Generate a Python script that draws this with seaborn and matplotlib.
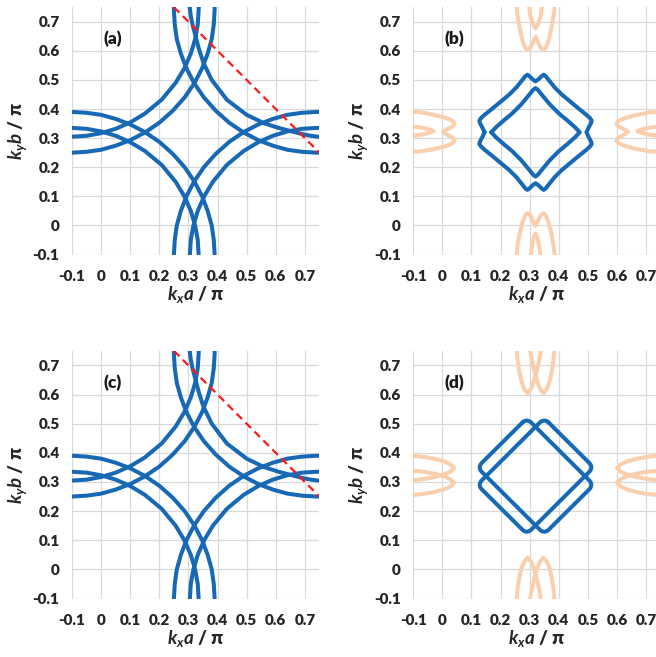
import matplotlib
matplotlib.use("Agg")
import numpy as np
import pandas as pd
import seaborn as sns
from matplotlib import pyplot as plt

sns.set_style("white")
plt.rcParams['font.family'] = ['Lato', 'DejaVu Sans']
plt.rcParams['mathtext.fontset'] = 'custom'
plt.rcParams['mathtext.it'] = 'Lato:italic:bold'
plt.rcParams['mathtext.rm'] = 'Lato:bold'

BLUE = "#1769b6"
PEACH = "#f9cfae"
RED = "#ff1a1a"

ticks = [-0.1, 0, 0.1, 0.2, 0.3, 0.4, 0.5, 0.6, 0.7]
tick_labels = ["-0.1", "0", "0.1", "0.2", "0.3", "0.4", "0.5", "0.6", "0.7"]
panel_names = ["(a)", "(b)", "(c)", "(d)"]

# ---- panels (a) and (c): uncoupled contours, one pair per corner ----
bl_out_x = [-0.10, -0.05, 0.00, 0.05, 0.10, 0.15, 0.20, 0.246, 0.287, 0.321, 0.347, 0.366, 0.380, 0.387, 0.390]
bl_out_y = [0.390, 0.387, 0.380, 0.366, 0.347, 0.321, 0.287, 0.246, 0.200, 0.150, 0.100, 0.050, 0.000, -0.050, -0.100]
br_out_x = [0.76, 0.74, 0.69, 0.64, 0.59, 0.54, 0.49, 0.44, 0.394, 0.353, 0.319, 0.293, 0.274, 0.260, 0.253, 0.250]
br_out_y = [0.390, 0.390, 0.387, 0.380, 0.366, 0.347, 0.321, 0.287, 0.246, 0.200, 0.150, 0.100, 0.050, 0.000, -0.050, -0.100]
tl_out_x = [-0.10, -0.05, 0.00, 0.05, 0.10, 0.15, 0.20, 0.246, 0.287, 0.321, 0.347, 0.366, 0.380, 0.387, 0.390, 0.390]
tl_out_y = [0.250, 0.253, 0.260, 0.274, 0.293, 0.319, 0.353, 0.394, 0.440, 0.490, 0.540, 0.590, 0.640, 0.690, 0.740, 0.760]
tr_out_x = [0.76, 0.74, 0.69, 0.64, 0.59, 0.54, 0.49, 0.44, 0.394, 0.353, 0.319, 0.293, 0.274, 0.260, 0.253, 0.250, 0.250]
tr_out_y = [0.250, 0.250, 0.253, 0.260, 0.274, 0.293, 0.319, 0.353, 0.394, 0.440, 0.490, 0.540, 0.590, 0.640, 0.690, 0.740, 0.760]

bl_in_x = [-0.10, -0.05, 0.00, 0.05, 0.10, 0.15, 0.208, 0.256, 0.286, 0.308, 0.323, 0.332, 0.335]
bl_in_y = [0.335, 0.332, 0.323, 0.308, 0.286, 0.256, 0.208, 0.150, 0.100, 0.050, 0.000, -0.050, -0.100]
br_in_x = [0.76, 0.74, 0.69, 0.64, 0.59, 0.54, 0.49, 0.432, 0.384, 0.354, 0.332, 0.317, 0.308, 0.305]
br_in_y = [0.335, 0.335, 0.332, 0.323, 0.308, 0.286, 0.256, 0.208, 0.150, 0.100, 0.050, 0.000, -0.050, -0.100]
tl_in_x = [-0.10, -0.05, 0.00, 0.05, 0.10, 0.15, 0.208, 0.256, 0.286, 0.308, 0.323, 0.332, 0.335, 0.336]
tl_in_y = [0.305, 0.308, 0.317, 0.332, 0.354, 0.384, 0.432, 0.490, 0.540, 0.590, 0.640, 0.690, 0.740, 0.760]
tr_in_x = [0.303, 0.308, 0.314, 0.322, 0.335, 0.351, 0.380, 0.432, 0.500, 0.560, 0.610, 0.660, 0.690, 0.720, 0.760]
tr_in_y = [0.760, 0.720, 0.690, 0.660, 0.610, 0.560, 0.500, 0.432, 0.380, 0.351, 0.335, 0.322, 0.314, 0.308, 0.303]

dash_x = [0.25, 0.75]
dash_y = [0.75, 0.25]

# ---- panel (b) ----
b_in_x = [0.168, 0.185, 0.210, 0.240, 0.270, 0.295, 0.312, 0.320, 0.328, 0.345, 0.370, 0.400, 0.430, 0.455, 0.472,
          0.455, 0.430, 0.400, 0.370, 0.345, 0.328, 0.320, 0.312, 0.295, 0.270, 0.240, 0.210, 0.185, 0.168]
b_in_y = [0.320, 0.338, 0.360, 0.385, 0.415, 0.445, 0.466, 0.472, 0.466, 0.445, 0.415, 0.385, 0.360, 0.338, 0.320,
          0.302, 0.280, 0.255, 0.225, 0.195, 0.174, 0.168, 0.174, 0.195, 0.225, 0.255, 0.280, 0.302, 0.320]
b_out_x = [0.145, 0.138, 0.130, 0.127, 0.132, 0.145, 0.170, 0.200, 0.230, 0.255, 0.275, 0.285, 0.292, 0.300, 0.310,
           0.320, 0.330, 0.340, 0.348, 0.355, 0.365, 0.385, 0.410, 0.440, 0.470, 0.495, 0.508, 0.513, 0.510, 0.502,
           0.495, 0.502, 0.510, 0.513, 0.508, 0.495, 0.470, 0.440, 0.410, 0.385, 0.365, 0.355, 0.348, 0.340, 0.330,
           0.320, 0.310, 0.300, 0.292, 0.285, 0.275, 0.255, 0.230, 0.200, 0.170, 0.145, 0.132, 0.127, 0.130, 0.138, 0.145]
b_out_y = [0.320, 0.335, 0.350, 0.360, 0.368, 0.380, 0.400, 0.425, 0.450, 0.475, 0.500, 0.513, 0.518, 0.512, 0.502,
           0.495, 0.502, 0.512, 0.518, 0.513, 0.500, 0.475, 0.450, 0.425, 0.400, 0.380, 0.368, 0.360, 0.350, 0.335,
           0.320, 0.305, 0.290, 0.280, 0.272, 0.260, 0.240, 0.215, 0.190, 0.165, 0.140, 0.127, 0.122, 0.128, 0.138,
           0.145, 0.138, 0.128, 0.122, 0.127, 0.140, 0.165, 0.190, 0.215, 0.240, 0.260, 0.272, 0.280, 0.290, 0.305, 0.320]

b_top_out_x = [0.255, 0.258, 0.265, 0.275, 0.285, 0.293, 0.302, 0.312, 0.320, 0.328, 0.338, 0.347, 0.355, 0.365, 0.375, 0.382, 0.387]
b_top_out_y = [0.760, 0.720, 0.680, 0.635, 0.610, 0.603, 0.610, 0.630, 0.648, 0.630, 0.610, 0.603, 0.610, 0.635, 0.680, 0.720, 0.760]
b_top_in_x = [0.297, 0.302, 0.312, 0.320, 0.328, 0.338, 0.343]
b_top_in_y = [0.760, 0.720, 0.690, 0.677, 0.690, 0.720, 0.760]
b_bot_out_x = [0.255, 0.258, 0.265, 0.275, 0.285, 0.293, 0.302, 0.312, 0.320, 0.328, 0.338, 0.347, 0.355, 0.365, 0.375, 0.382, 0.387]
b_bot_out_y = [-0.110, -0.070, -0.030, 0.010, 0.035, 0.042, 0.035, 0.015, -0.002, 0.015, 0.035, 0.042, 0.035, 0.010, -0.030, -0.070, -0.110]
b_bot_in_x = [0.302, 0.308, 0.314, 0.320, 0.326, 0.332, 0.338]
b_bot_in_y = [-0.110, -0.070, -0.040, -0.028, -0.040, -0.070, -0.110]
b_left_out_x = [-0.110, -0.070, -0.030, 0.010, 0.035, 0.042, 0.035, 0.015, 0.002, 0.015, 0.035, 0.042, 0.035, 0.010, -0.030, -0.070, -0.110]
b_left_out_y = [0.391, 0.388, 0.380, 0.370, 0.360, 0.350, 0.340, 0.330, 0.322, 0.312, 0.302, 0.292, 0.282, 0.272, 0.262, 0.255, 0.253]
b_left_in_x = [-0.110, -0.070, -0.045, -0.030, -0.045, -0.070, -0.110]
b_left_in_y = [0.341, 0.336, 0.330, 0.324, 0.318, 0.312, 0.307]
b_right_out_x = [0.760, 0.710, 0.670, 0.630, 0.605, 0.598, 0.605, 0.625, 0.638, 0.625, 0.605, 0.598, 0.605, 0.630, 0.670, 0.710, 0.760]
b_right_out_y = [0.391, 0.388, 0.380, 0.370, 0.360, 0.350, 0.340, 0.330, 0.322, 0.312, 0.302, 0.292, 0.282, 0.272, 0.262, 0.255, 0.253]
b_right_in_x = [0.760, 0.710, 0.685, 0.670, 0.685, 0.710, 0.760]
b_right_in_y = [0.341, 0.336, 0.330, 0.324, 0.318, 0.312, 0.307]

# ---- panel (d) ----
d_loop1_x = [0.276, 0.282, 0.290, 0.298, 0.304, 0.506, 0.510, 0.512, 0.510, 0.506,
             0.364, 0.358, 0.350, 0.342, 0.336, 0.134, 0.130, 0.128, 0.130, 0.134, 0.276]
d_loop1_y = [0.505, 0.509, 0.511, 0.509, 0.505, 0.304, 0.298, 0.290, 0.282, 0.276,
             0.135, 0.131, 0.129, 0.131, 0.135, 0.336, 0.342, 0.350, 0.358, 0.364, 0.505]
d_loop2_x = [0.364, 0.358, 0.350, 0.342, 0.336, 0.134, 0.130, 0.128, 0.130, 0.134,
             0.276, 0.282, 0.290, 0.298, 0.304, 0.506, 0.510, 0.512, 0.510, 0.506, 0.364]
d_loop2_y = [0.505, 0.509, 0.511, 0.509, 0.505, 0.304, 0.298, 0.290, 0.282, 0.276,
             0.135, 0.131, 0.129, 0.131, 0.135, 0.336, 0.342, 0.350, 0.358, 0.364, 0.505]

d_top1_x = [0.255, 0.258, 0.264, 0.272, 0.282, 0.293, 0.304, 0.314, 0.324, 0.333, 0.340]
d_top2_x = [0.385, 0.382, 0.376, 0.368, 0.358, 0.347, 0.336, 0.326, 0.316, 0.307, 0.300]
d_top_y = [0.760, 0.720, 0.680, 0.645, 0.618, 0.605, 0.618, 0.645, 0.680, 0.720, 0.760]
d_bot1_x = [0.255, 0.258, 0.264, 0.272, 0.282, 0.293, 0.304, 0.314, 0.324, 0.333, 0.340]
d_bot2_x = [0.385, 0.382, 0.376, 0.368, 0.358, 0.347, 0.336, 0.326, 0.316, 0.307, 0.300]
d_bot_y = [-0.110, -0.070, -0.030, 0.005, 0.028, 0.040, 0.028, 0.005, -0.030, -0.070, -0.110]
d_left_x = [-0.110, -0.070, -0.030, 0.005, 0.028, 0.040, 0.028, 0.005, -0.030, -0.070, -0.110]
d_right_x = [0.750, 0.710, 0.670, 0.635, 0.612, 0.600, 0.612, 0.635, 0.670, 0.710, 0.750]
d_side1_y = [0.390, 0.387, 0.380, 0.371, 0.360, 0.348, 0.336, 0.325, 0.316, 0.309, 0.306]
d_side2_y = [0.255, 0.258, 0.265, 0.274, 0.285, 0.297, 0.309, 0.320, 0.329, 0.336, 0.339]


def curve(ax, xs, ys, color=BLUE, lw=2.9, **kw):
    sns.lineplot(x=xs, y=ys, ax=ax, sort=False, estimator=None, color=color,
                 lw=lw, solid_capstyle='round', solid_joinstyle='round', **kw)


def style(ax, name):
    ax.set_xlim(-0.1, 0.75)
    ax.set_ylim(-0.1, 0.75)
    ax.set_xticks(ticks)
    ax.set_yticks(ticks)
    ax.set_xticklabels(tick_labels, fontsize=11, fontweight='heavy', color='#262626')
    ax.set_yticklabels(tick_labels, fontsize=11, fontweight='heavy', color='#262626')
    ax.tick_params(axis='x', length=0, pad=11)
    ax.tick_params(axis='y', length=0, pad=9)
    ax.grid(True, color='#d9d9d9', lw=0.9)
    ax.set_axisbelow(True)
    for s in ax.spines.values():
        s.set_visible(False)
    ax.set_xlabel(r'$k_x a$ / π', fontsize=13.5, fontweight='heavy', color='#262626')
    ax.set_ylabel(r'$k_y b$ / π', fontsize=13.5, fontweight='heavy', color='#262626')
    ax.xaxis.label.set_va('center')
    ax.yaxis.label.set_va('center')
    ax.xaxis.set_label_coords(0.5, -0.162)
    ax.yaxis.set_label_coords(-0.222, 0.5)
    ax.text(0.04, 0.64, name, fontsize=12.5, fontweight='heavy', ha='center', va='center', color='#1a1a1a')


fig = plt.figure(figsize=(6.56, 6.57), dpi=100)
ax_a = fig.add_axes([0.1098, 0.6126, 0.3771, 0.3765])
ax_b = fig.add_axes([0.6300, 0.6126, 0.3771, 0.3765])
ax_c = fig.add_axes([0.1098, 0.0890, 0.3771, 0.3770])
ax_d = fig.add_axes([0.6300, 0.0890, 0.3771, 0.3770])

for ax in (ax_a, ax_c):
    for xs, ys in [(bl_out_x, bl_out_y), (br_out_x, br_out_y), (tl_out_x, tl_out_y), (tr_out_x, tr_out_y),
                   (bl_in_x, bl_in_y), (br_in_x, br_in_y), (tl_in_x, tl_in_y), (tr_in_x, tr_in_y)]:
        curve(ax, xs, ys)
    sns.lineplot(x=dash_x, y=dash_y, ax=ax, sort=False, estimator=None, color=RED, lw=1.6,
                 dashes=False, linestyle=(0, (3.5, 2.2)))

# (b)
for xs, ys in [(b_top_out_x, b_top_out_y), (b_top_in_x, b_top_in_y), (b_bot_out_x, b_bot_out_y),
               (b_bot_in_x, b_bot_in_y), (b_left_out_x, b_left_out_y), (b_left_in_x, b_left_in_y),
               (b_right_out_x, b_right_out_y), (b_right_in_x, b_right_in_y)]:
    curve(ax_b, xs, ys, color=PEACH)
curve(ax_b, b_out_x, b_out_y)
curve(ax_b, b_in_x, b_in_y)

# (d)
for xs, ys in [(d_top1_x, d_top_y), (d_top2_x, d_top_y), (d_bot1_x, d_bot_y), (d_bot2_x, d_bot_y),
               (d_left_x, d_side1_y), (d_left_x, d_side2_y), (d_right_x, d_side1_y), (d_right_x, d_side2_y)]:
    curve(ax_d, xs, ys, color=PEACH)
curve(ax_d, d_loop1_x, d_loop1_y)
curve(ax_d, d_loop2_x, d_loop2_y)

for ax, name in zip([ax_a, ax_b, ax_c, ax_d], panel_names):
    style(ax, name)

fig.savefig("out.png", dpi=100)
